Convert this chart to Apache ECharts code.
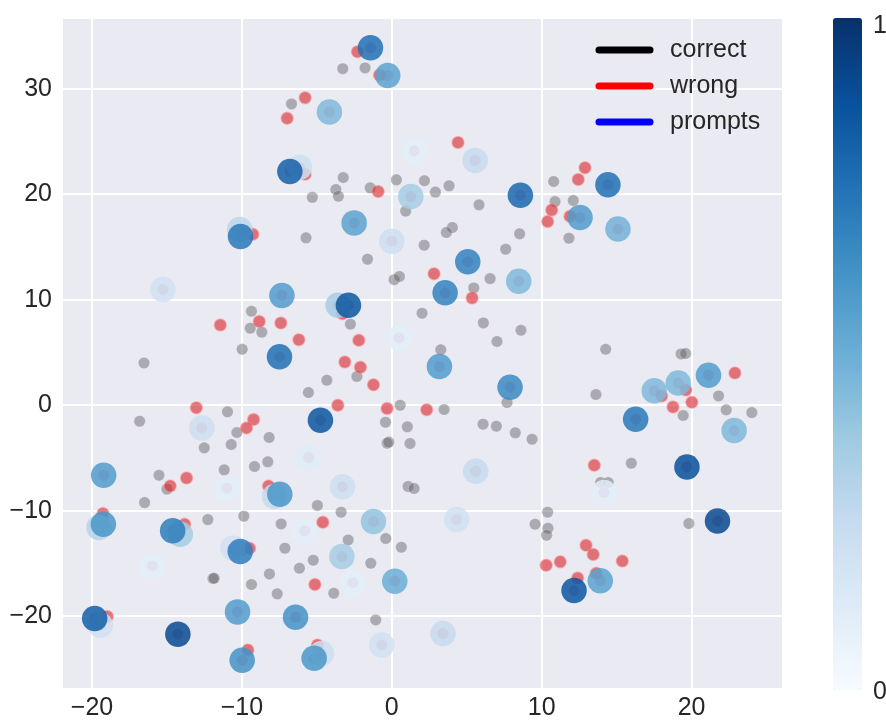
<!DOCTYPE html>
<html>
<head>
<meta charset="utf-8">
<script src="https://cdn.jsdelivr.net/npm/echarts@6/dist/echarts.min.js"></script>
<style>html,body{margin:0;padding:0;background:#fff}#c{width:886px;height:721px}</style>
</head>
<body>
<div id="c"></div>
<script>
// ---- data ----
const correctPoints = [
[-6.69,28.56],[-5.3,19.7],[-5.72,15.86],[-9.36,8.9],[-9.44,7.3],[-8.67,6.92],[-9.98,5.3],
[-3.27,31.9],[-1.78,31.97],[-3.24,21.58],[0.31,21.36],[2.18,21.27],[3.82,20.79],[-3.73,20.44],
[-1.44,20.6],[-3.56,19.8],[2.91,20.2],[0.93,18.4],[5.82,18.99],[2.16,15.17],[4.04,16.84],
[3.64,16.37],[8.53,16.24],[7.6,14.79],[-1.62,13.84],[0.16,11.9],[0.51,12.2],[6.56,12.0],
[5.47,11.12],[-2.76,7.68],[2.02,8.72],[6.11,7.8],[8.62,7.1],[7.02,6.04],[3.27,5.25],
[10.8,21.2],[10.89,19.3],[12.11,19.4],[11.82,15.83],[14.27,5.3],[19.3,4.86],[19.6,4.9],
[-16.53,4.0],[-5.56,1.2],[-10.96,-0.63],[-16.82,-1.52],[-10.33,-2.59],[-8.18,-3.06],
[-12.51,-4.04],[-10.71,-3.73],[-15.53,-6.64],[-11.18,-6.13],[-9.16,-5.81],[-8.27,-5.37],
[-15.0,-7.96],[-16.49,-9.23],[-12.27,-10.84],[-9.87,-10.52],[-7.38,-11.25],[-7.13,-13.55],
[-11.93,-16.43],[-11.85,-16.4],[-8.16,-15.99],[-9.36,-17.0],[-6.16,-15.45],[-7.64,-17.88],
[-2.33,2.72],[-4.33,2.37],[7.69,0.25],[0.56,0.0],[3.49,-0.41],[-0.42,-1.61],[1.04,-2.05],
[-0.31,-3.6],[-0.2,-3.5],[1.22,-3.63],[6.09,-1.8],[6.98,-1.99],[8.24,-2.62],[9.36,-3.22],
[1.09,-7.7],[1.49,-7.9],[-4.96,-9.5],[-3.38,-10.14],[9.56,-11.28],[-2.91,-12.77],[-0.4,-12.64],
[0.64,-13.46],[-5.24,-14.69],[-1.4,-14.98],[-3.87,-17.82],[-1.07,-20.35],[13.62,1.01],
[21.8,0.88],[22.31,-0.44],[24.02,-0.7],[19.44,-0.98],[15.98,-5.5],[13.93,-7.33],[14.44,-7.33],
[10.4,-10.14],[10.42,-11.66],[10.33,-12.32],[19.82,-11.21]
];
const wrongPoints = [
[-5.78,29.13],[-6.98,27.2],[-5.78,21.9],[-9.27,16.2],[-11.44,7.6],[-8.84,7.93],[-7.4,7.8],
[-6.2,6.2],[-2.29,33.5],[-0.82,31.3],[4.42,24.9],[-0.91,20.25],[10.4,17.4],[2.82,12.45],
[5.36,10.17],[-3.29,8.66],[-2.2,6.16],[-3.13,4.1],[12.89,22.5],[12.44,21.4],[10.67,18.5],
[11.89,17.9],[-13.04,-0.25],[-9.22,-1.36],[-9.69,-2.15],[-13.69,-6.89],[-14.78,-7.65],
[-8.22,-7.65],[-19.27,-10.27],[-13.82,-11.28],[-9.49,-13.55],[-18.98,-20.03],[-9.6,-23.2],
[-2.09,3.6],[-1.22,1.93],[-3.6,0.0],[-0.31,-0.32],[2.33,-0.44],[-4.6,-11.09],[-5.13,-17.0],
[10.3,-15.17],[-4.96,-22.72],[22.89,3.06],[18.0,0.88],[19.62,1.45],[20.02,0.28],[18.76,-0.16],
[13.51,-5.69],[12.96,-13.27],[13.44,-14.15],[15.38,-14.76],[11.24,-14.85],[12.4,-16.37],
[13.64,-15.92]
];
const promptPoints = [
[-1.42,33.87],[-0.27,31.25],[-4.16,27.8],[-6.15,22.56],[-6.8,22.15],[1.49,24.1],[5.56,23.2],
[-10.15,16.65],[-10.09,16.0],[-2.51,17.28],[1.27,19.78],[8.58,19.9],[14.42,20.9],[12.56,17.8],
[15.09,16.7],[0.0,15.55],[5.07,13.6],[8.47,11.75],[3.56,10.65],[-3.58,9.48],[-2.89,9.48],
[-7.33,10.4],[-15.27,10.97],[0.49,6.38],[-7.49,4.6],[3.18,3.66],[7.89,1.7],[-4.76,-1.42],
[-12.67,-2.15],[-5.55,-4.96],[5.6,-6.26],[-3.29,-7.74],[-11.0,-7.87],[-19.22,-6.64],
[-7.82,-8.66],[-7.47,-8.44],[-1.22,-11.03],[4.33,-10.84],[-5.8,-11.9],[-19.53,-11.6],
[-19.24,-11.28],[-14.11,-12.23],[-14.62,-11.91],[-10.6,-13.55],[-10.11,-13.87],[-3.33,-14.35],
[-15.98,-15.23],[-2.6,-16.81],[0.2,-16.68],[-19.44,-20.85],[-19.82,-20.22],[-14.27,-21.7],
[-10.29,-19.59],[-6.42,-20.1],[-9.98,-24.17],[-4.69,-23.54],[-5.18,-23.98],[-0.67,-22.72],
[3.42,-21.64],[17.51,1.36],[19.11,2.11],[21.13,2.84],[16.27,-1.33],[22.84,-2.4],[19.69,-5.85],
[14.16,-8.28],[21.73,-10.97],[13.91,-16.65],[12.16,-17.57]
];
const promptValues = [
0.75,0.55,0.45,0.22,0.82,0.1,0.25,
0.28,0.72,0.55,0.35,0.78,0.75,0.58,
0.48,0.22,0.68,0.45,0.68,0.35,0.85,
0.58,0.2,0.1,0.75,0.58,0.65,0.85,
0.22,0.12,0.25,0.22,0.1,0.58,
0.25,0.6,0.4,0.2,0.1,0.3,
0.6,0.35,0.7,0.2,0.7,0.35,
0.1,0.1,0.5,0.2,0.82,0.9,
0.58,0.62,0.62,0.22,0.6,0.2,
0.25,0.45,0.45,0.58,0.72,0.45,0.88,
0.1,0.9,0.55,0.85
];
const xTicks = [-20,-10,0,10,20];
const yTicks = [-20,-10,0,10,20,30];
const legendNames = ['correct','wrong','prompts'];
const colorbarLabels = ['1','0'];

// ---- chart ----
const blues = ['#f7fbff','#deebf7','#c6dbef','#9ecae1','#6baed6','#4292c6','#2171b5','#08519c','#08306b'];
const FONT = 'Liberation Sans, Arial, sans-serif';
const FS = 25;
const fmt = v => (v < 0 ? '\u2212' + Math.abs(v) : String(v));
const chart = echarts.init(document.getElementById('c'), null, {renderer:'canvas'});
const L = 62, R = 783, T = 18, B = 690;
const axisCommon = {
  type:'value', axisLine:{show:false}, axisTick:{show:false},
  splitLine:{show:true, lineStyle:{color:'#ffffff', width:2}},
};
const legendColors = ['#000000','#ff0000','#0000ff'];
const legendGraphics = [];
legendNames.forEach((n,i) => {
  const y = 50 + i*36;
  legendGraphics.push({type:'line', shape:{x1:599,y1:y,x2:650,y2:y}, style:{stroke:legendColors[i], lineWidth:7, lineCap:'round'}, z:100});
  legendGraphics.push({type:'text', x:670, y:y, style:{text:n, font:FS + 'px ' + FONT, fill:'#262626', textVerticalAlign:'middle', textAlign:'left'}, z:100});
});
legendGraphics.push({type:'text', x:873, y:26, style:{text:colorbarLabels[0], font:FS + 'px ' + FONT, fill:'#262626', textVerticalAlign:'middle'}});
legendGraphics.push({type:'text', x:873, y:692, style:{text:colorbarLabels[1], font:FS + 'px ' + FONT, fill:'#262626', textVerticalAlign:'middle'}});

chart.setOption({
  animation:false,
  backgroundColor:'#ffffff',
  grid:{left:L, right:886-R, top:T, bottom:721-B, show:true, backgroundColor:'#EAEAF2', borderWidth:0},
  xAxis:Object.assign({}, axisCommon, {
    min:-22, max:26.1, splitNumber:5,
    axisLabel:{showMinLabel:false, showMaxLabel:false, fontSize:FS, fontFamily:FONT, color:'#262626', margin:7,
      formatter:v => xTicks.indexOf(v) >= 0 ? fmt(v) : ''}
  }),
  yAxis:Object.assign({}, axisCommon, {
    min:-26.9, max:36.7, splitNumber:6,
    axisLabel:{showMinLabel:false, showMaxLabel:false, fontSize:FS, fontFamily:FONT, color:'#262626', margin:10,
      formatter:v => yTicks.indexOf(v) >= 0 ? fmt(v) : ''}
  }),
  visualMap:{
    type:'continuous', min:0, max:1, seriesIndex:3, dimension:2, calculable:false,
    inRange:{color:blues}, orient:'vertical', left:833, top:T, itemWidth:29, itemHeight:B-T,
    padding:0, text:null, showLabel:false, hoverLink:false
  },
  graphic:legendGraphics,
  series:[
    {name:legendNames[0], type:'scatter', data:correctPoints, symbolSize:11.5,
      itemStyle:{color:'rgba(100,100,104,0.6)', borderColor:'rgba(255,255,255,0.3)', borderWidth:1}},
    {name:legendNames[1], type:'scatter', data:wrongPoints, symbolSize:12,
      itemStyle:{color:'rgba(215,25,32,0.72)', borderColor:'rgba(255,140,140,0.55)', borderWidth:1.5}},
    {name:'under', type:'scatter', data:promptPoints, symbolSize:11, silent:true,
      itemStyle:{color:'rgba(190,70,110,0.6)'}},
    {name:legendNames[2], type:'scatter', symbolSize:25.5,
      data:promptPoints.map((p,i) => [p[0], p[1], promptValues[i]]),
      itemStyle:{opacity:0.85, borderWidth:0}}
  ]
});
</script>
</body>
</html>
